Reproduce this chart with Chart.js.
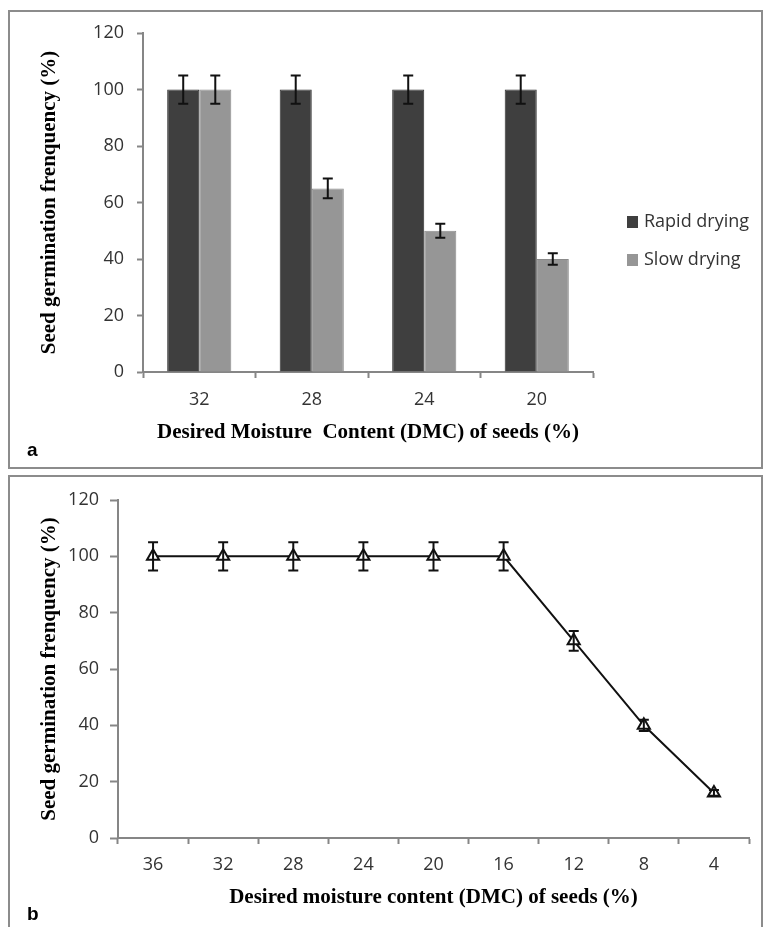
<!DOCTYPE html>
<html>
<head>
<meta charset="utf-8">
<script src="https://cdn.jsdelivr.net/npm/chart.js@4.4.1/dist/chart.umd.min.js"></script>
<style>
  body { margin: 0; background: #fff; width: 763px; height: 927px; overflow: hidden; position: relative; }
  canvas { position: absolute; left: 0; }
  .frame { position: absolute; border: 2px solid #8c8c8c; box-sizing: border-box; pointer-events: none; }
  .tag { position: absolute; font: bold 19px "Liberation Sans", Arial, sans-serif; color: #000; line-height: 20px; }
  .legend { position: absolute; font: 18px "Open Sans", sans-serif; color: #333; }
  .legend span.box { display: inline-block; width: 11px; height: 12px; vertical-align: middle; margin-right: 6px; }
</style>
</head>
<body>
<div class="frame" style="left:8px; top:10px; width:755px; height:459px;"></div>
<div class="frame" style="left:8px; top:475px; width:755px; height:470px;"></div>

<canvas id="chartA" width="763" height="470" style="top:0px;"></canvas>
<canvas id="chartB" width="763" height="457" style="top:470px;"></canvas>

<div class="legend" style="left:627px; top:208px;"><span class="box" style="background:#3f3f3f"></span>Rapid drying</div>
<div class="legend" style="left:627px; top:246px;"><span class="box" style="background:#969696"></span>Slow drying</div>

<div class="tag" style="left:27px; top:440px;">a</div>
<div class="tag" style="left:27px; top:904px;">b</div>

<script>
// ---------------- data: panel a (bars) ----------------
const dmcA = ['32', '28', '24', '20'];
const rapidDrying = [100, 100, 100, 100];
const rapidErr = [5, 5, 5, 5];
const slowDrying = [100, 65, 50, 40];
const slowErr = [5, 3.5, 2.5, 2];

// ---------------- data: panel b (line) ----------------
const dmcB = ['36', '32', '28', '24', '20', '16', '12', '8', '4'];
const germination = [100, 100, 100, 100, 100, 100, 70, 40, 16];
const germinationErr = [5, 5, 5, 5, 5, 5, 3.5, 2, 1];

const yTicks = [0, 20, 40, 60, 80, 100, 120];

Chart.defaults.font.family = '"Open Sans", sans-serif';
Chart.defaults.color = '#333';

const axisGrey = '#868686';
const titleFont = { family: '"Liberation Serif", "Times New Roman", serif', size: 21, weight: 'bold' };

// error bars drawn from each dataset's "errors" array, through the y scale
const errorBars = {
  id: 'errorBars',
  afterDatasetsDraw(chart) {
    const ctx = chart.ctx;
    const yScale = chart.scales.y;
    chart.data.datasets.forEach((ds, i) => {
      if (!ds.errors) return;
      const meta = chart.getDatasetMeta(i);
      meta.data.forEach((el, j) => {
        const v = ds.data[j];
        const e = ds.errors[j];
        const x = el.x;
        const yTop = yScale.getPixelForValue(v + e);
        const yBot = yScale.getPixelForValue(v - e);
        ctx.save();
        ctx.strokeStyle = '#111';
        ctx.lineWidth = 2;
        ctx.beginPath();
        ctx.moveTo(x, yTop); ctx.lineTo(x, yBot);
        ctx.moveTo(x - 5, yTop); ctx.lineTo(x + 5, yTop);
        ctx.moveTo(x - 5, yBot); ctx.lineTo(x + 5, yBot);
        ctx.stroke();
        ctx.restore();
      });
    });
  }
};

function yAxis(width, tickLen, pad) {
  return {
    min: 0, max: 120,
    afterBuildTicks: (scale) => { scale.ticks = yTicks.map(v => ({ value: v })); },
    afterFit: (scale) => { scale.width = width; },
    ticks: { font: { size: 18 }, padding: pad, color: '#333' },
    grid: { drawOnChartArea: false, drawTicks: true, tickLength: tickLen, tickColor: axisGrey, tickWidth: 2 },
    border: { color: axisGrey, width: 2 },
    title: { display: true, text: 'Seed germination frenquency (%)', font: titleFont, color: '#000', padding: { top: 4, bottom: 4 } }
  };
}

function xAxis(height, pad, text) {
  return {
    offset: true,
    afterFit: (scale) => { scale.height = height; },
    ticks: { font: { size: 18 }, padding: pad, color: '#333', maxRotation: 0 },
    grid: { offset: true, drawOnChartArea: false, drawTicks: true, tickLength: 6, tickColor: axisGrey, tickWidth: 2 },
    border: { color: axisGrey, width: 2 },
    title: { display: true, text: text, font: titleFont, color: '#000', padding: { top: 4, bottom: 4 } }
  };
}

// ---------------- panel a ----------------
new Chart(document.getElementById('chartA').getContext('2d'), {
  type: 'bar',
  data: {
    labels: dmcA,
    datasets: [
      { label: 'Rapid drying', data: rapidDrying, errors: rapidErr, backgroundColor: '#3f3f3f', borderColor: '#2e2e2e', borderWidth: 1 },
      { label: 'Slow drying', data: slowDrying, errors: slowErr, backgroundColor: '#969696', borderColor: '#8a8a8a', borderWidth: 1 }
    ]
  },
  options: {
    responsive: false,
    animation: false,
    devicePixelRatio: 1,
    categoryPercentage: 0.57,
    barPercentage: 1.0,
    layout: { padding: { left: 33, right: 170, top: 33, bottom: 21 } },
    plugins: { legend: { display: false }, tooltip: { enabled: false } },
    scales: {
      x: xAxis(77, 11, 'Desired Moisture  Content (DMC) of seeds (%)'),
      y: yAxis(110, 6, 13)
    }
  },
  plugins: [errorBars]
});

// ---------------- panel b ----------------
new Chart(document.getElementById('chartB').getContext('2d'), {
  type: 'line',
  data: {
    labels: dmcB,
    datasets: [
      {
        label: 'Germination', data: germination, errors: germinationErr,
        borderColor: '#111', borderWidth: 2, tension: 0,
        pointStyle: 'triangle', pointRadius: 7, pointBorderWidth: 2,
        pointBackgroundColor: '#fff', pointBorderColor: '#111'
      }
    ]
  },
  options: {
    responsive: false,
    animation: false,
    devicePixelRatio: 1,
    layout: { padding: { left: 33, right: 14, top: 30, bottom: 13 } },
    plugins: { legend: { display: false }, tooltip: { enabled: false } },
    scales: {
      x: xAxis(76, 10, 'Desired moisture content (DMC) of seeds (%)'),
      y: yAxis(85, 8, 11)
    }
  },
  plugins: [errorBars]
});
</script>
</body>
</html>
